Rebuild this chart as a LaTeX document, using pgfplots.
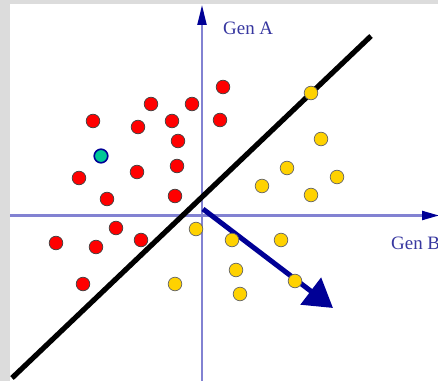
\documentclass[border=0pt]{standalone}
\usepackage{pgfplots}
\pgfplotsset{compat=1.18}
\usepackage{fontspec}
\setmainfont{Liberation Serif}
\usetikzlibrary{arrows.meta}

\definecolor{framegray}{RGB}{220,220,220}
\definecolor{axisblue}{RGB}{130,130,210}
\definecolor{navy}{RGB}{0,0,150}
\definecolor{labelblue}{RGB}{55,55,160}
\definecolor{classred}{RGB}{255,0,0}
\definecolor{classgold}{RGB}{255,210,0}
\definecolor{testteal}{RGB}{0,200,150}

% Gene expression samples, positions in drawing units (y grows downward)
\pgfplotstableread{
x y
223 87
151 104
192 104
93 121
138 127
172 121
220 120
178 141
137 172
177 166
79 178
107 199
175 196
116 228
56 243
96 247
141 240
83 284
}\redclass

\pgfplotstableread{
x y
311 93
321 139
287 168
337 177
262 186
311 195
196 229
232 240
281 240
236 270
295 281
240 294
175 284
}\goldclass

\begin{document}
\begin{tikzpicture}
\begin{axis}[
  scale only axis,
  width=438bp, height=381bp,
  xmin=0, xmax=438, ymin=0, ymax=381,
  y dir=reverse,
  hide axis,
  clip=false,
]
% frame and white panel
\addplot[fill=framegray, draw=none] coordinates {(0,0) (438,0) (438,381) (0,381)} -- cycle;
\addplot[fill=white, draw=none] coordinates {(10,4) (438,4) (438,381) (10,381)} -- cycle;

% gene axes
\addplot[axisblue, line width=2.2bp, -{Triangle[length=20bp,width=9bp,color=navy]}]
  coordinates {(202,381) (202,5)};
\addplot[axisblue, line width=2.2bp, -{Triangle[length=17bp,width=9bp,color=navy]}]
  coordinates {(10,215.5) (439,215.5)};

% samples
\addplot[only marks, mark=*, mark size=6.8bp,
  mark options={fill=classred, draw=black!75, line width=0.7bp}]
  table[x=x, y=y] {\redclass};
\addplot[only marks, mark=*, mark size=6.8bp,
  mark options={fill=classgold, draw=black!60, line width=0.7bp}]
  table[x=x, y=y] {\goldclass};
\addplot[only marks, mark=*, mark size=6.8bp,
  mark options={fill=testteal, draw=navy, line width=1.6bp}]
  coordinates {(101,156)};

% separating hyperplane
\addplot[black, line width=5.2bp] coordinates {(12,378) (371,36)};

% normal vector
\addplot[navy, line width=5bp, -{Triangle[length=28bp,width=33bp]}]
  coordinates {(203,209) (333,308)};

\node[text=labelblue, font=\fontsize{19}{19}\selectfont, inner sep=0pt, anchor=west] at (axis cs:223,28) {Gen A};
\node[text=labelblue, font=\fontsize{19}{19}\selectfont, inner sep=0pt, anchor=west] at (axis cs:391,243) {Gen B};
\end{axis}
\pgfresetboundingbox
\path (current axis.south west) rectangle (current axis.north east);
\end{tikzpicture}
\end{document}
